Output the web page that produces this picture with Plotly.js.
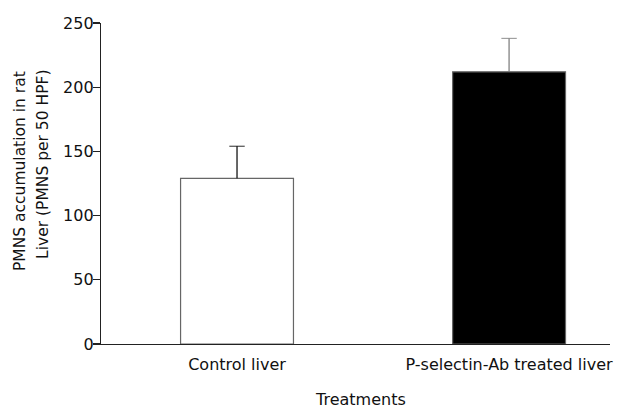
<!DOCTYPE html>
<html>
<head>
<meta charset="utf-8">
<script src="https://cdn.plot.ly/plotly-3.0.1.min.js"></script>
<style>html,body{margin:0;padding:0;background:#fff}#chart{width:620px;height:410px}</style>
</head>
<body>
<div id="chart"></div>
<script>
const categories = ["Control liver", "P-selectin-Ab treated liver"];
const values = [129, 212];
const errors = [25, 26];
const fills = ["#ffffff", "#000000"];
const errColors = ["#000000", "#777777"];
const yTicks = [0, 50, 100, 150, 200, 250];

const font = "DejaVu Sans, Verdana, sans-serif";
const traces = [];
categories.forEach((c, i) => {
  traces.push({
    type: "bar",
    x: [i],
    y: [values[i]],
    width: 0.415,
    marker: {color: fills[i], line: {color: "#666666", width: 1.2}},
    showlegend: false,
    hoverinfo: "skip"
  });
});
categories.forEach((c, i) => {
  traces.push({
    type: "scatter",
    mode: "lines+markers",
    x: [i, i],
    y: [values[i], values[i] + errors[i]],
    line: {color: errColors[i], width: 1.2},
    marker: {symbol: "line-ew-open", size: [0, 11], color: errColors[i], line: {color: errColors[i], width: 1.2}},
    showlegend: false,
    hoverinfo: "skip",
    cliponaxis: false
  });
});

const layout = {
  width: 620, height: 410,
  margin: {l: 101, r: 10, t: 23, b: 66},
  paper_bgcolor: "#fff", plot_bgcolor: "#fff",
  font: {family: font, size: 16, color: "#111"},
  xaxis: {
    range: [-0.5, 1.371],
    tickmode: "array", tickvals: categories.map((c, i) => i), ticktext: categories,
    ticks: "", showline: true, linecolor: "#222", linewidth: 1.2,
    showgrid: false, zeroline: false,
    ticklabelstandoff: 6,
    tickfont: {family: font, size: 16, color: "#111"}
  },
  yaxis: {
    range: [0, 250],
    tickmode: "array", tickvals: yTicks,
    ticks: "outside", ticklen: 7, tickcolor: "#222", tickwidth: 1.2,
    showline: true, linecolor: "#222", linewidth: 1.2,
    showgrid: false, zeroline: false,
    ticklabelstandoff: -4,
    tickfont: {family: font, size: 16, color: "#111"}
  },
  annotations: [
    {text: "PMNS accumulation in rat", textangle: -90, xref: "paper", yref: "paper", x: -0.159, y: 0.539, xanchor: "center", yanchor: "middle", showarrow: false, font: {family: font, size: 15.5, color: "#111"}},
    {text: "Liver (PMNS per 50 HPF)", textangle: -90, xref: "paper", yref: "paper", x: -0.114, y: 0.561, xanchor: "center", yanchor: "middle", showarrow: false, font: {family: font, size: 15.5, color: "#111"}},
    {text: "Treatments", xref: "paper", yref: "paper", x: 0.509, y: -0.172, xanchor: "center", yanchor: "middle", showarrow: false, font: {family: font, size: 16, color: "#111"}}
  ]
};

Plotly.newPlot("chart", traces, layout, {staticPlot: true});
</script>
</body>
</html>
